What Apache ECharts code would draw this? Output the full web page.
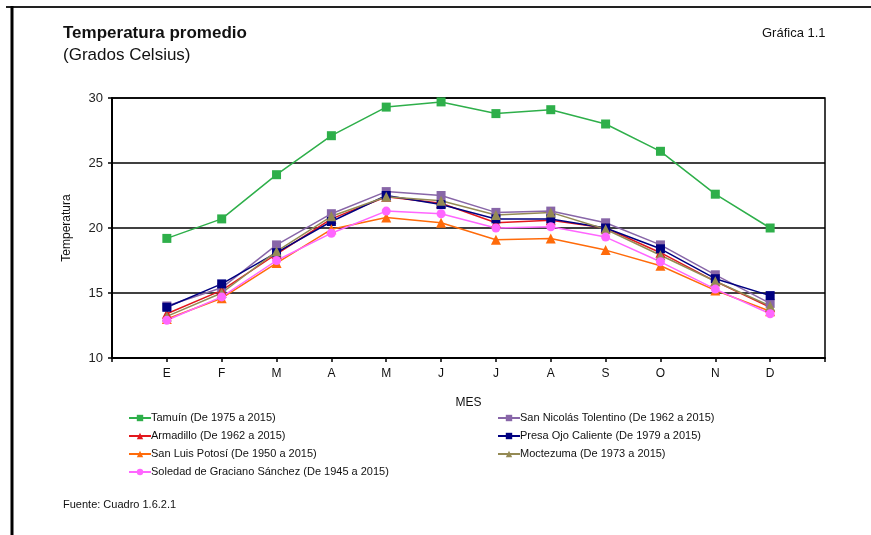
<!DOCTYPE html>
<html>
<head>
<meta charset="utf-8">
<script src="https://cdn.jsdelivr.net/npm/echarts@6/dist/echarts.min.js"></script>
<style>
	html, body { margin: 0; padding: 0; background: #fff; }
	#chart { width: 871px; height: 535px; }
</style>
</head>
<body>
<div id="chart"></div>
<script>
// meses, con un hueco vacio al principio y al final
var meses = ['', 'E', 'F', 'M', 'A', 'M', 'J', 'J', 'A', 'S', 'O', 'N', 'D', ''];

var tamuin = [19.2, 20.7, 24.1, 27.1, 29.3, 29.7, 28.8, 29.1, 28.0, 25.9, 22.6, 20.0];
var sanNicolas = [14.0, 15.4, 18.7, 21.1, 22.8, 22.5, 21.2, 21.3, 20.4, 18.7, 16.4, 14.2];
var armadillo = [13.4, 15.2, 18.0, 20.7, 22.4, 21.9, 20.4, 20.6, 20.0, 18.1, 15.9, 13.9];
var presaOjo = [13.9, 15.7, 18.1, 20.5, 22.5, 21.8, 20.7, 20.7, 20.0, 18.4, 16.1, 14.8];
var sanLuis = [13.0, 14.6, 17.3, 19.9, 20.8, 20.4, 19.1, 19.2, 18.3, 17.1, 15.2, 13.6];
var moctezuma = [13.2, 15.0, 18.2, 20.9, 22.4, 22.1, 21.0, 21.2, 19.9, 17.9, 15.9, 14.0];
var soledad = [12.9, 14.7, 17.5, 19.6, 21.3, 21.1, 20.0, 20.1, 19.3, 17.4, 15.3, 13.4];

var yTicks = [10, 15, 20, 25, 30];

var font = 'Liberation Sans, Arial, sans-serif';

function pad(arr) {
	return [null].concat(arr, [null]);
}

function serie(name, data, color, symbol) {
	return {
		name: name,
		type: 'line',
		data: pad(data),
		symbol: symbol,
		symbolSize: symbol === 'triangle' ? 10 : 9,
		lineStyle: { color: color, width: 1.5 },
		itemStyle: { color: color },
		emphasis: { disabled: true },
		animation: false
	};
}

var myChart = echarts.init(document.getElementById('chart'));

var legendText = { fontFamily: font, fontSize: 11, color: '#111', padding: [0, 0, 0, -5], lineHeight: 14 };

var option = {
	backgroundColor: '#fff',
	textStyle: { fontFamily: font },
	title: [{
		text: 'Temperatura promedio',
		left: 63, top: 25, padding: 0,
		textStyle: { fontFamily: font, fontSize: 17, fontWeight: 'bold', color: '#111' }
	}, {
		text: '(Grados Celsius)',
		left: 63, top: 47, padding: 0,
		textStyle: { fontFamily: font, fontSize: 17, fontWeight: 'normal', color: '#111' }
	}, {
		text: 'Gráfica 1.1',
		left: 762, top: 27, padding: 0,
		textStyle: { fontFamily: font, fontSize: 13, fontWeight: 'normal', color: '#111' }
	}, {
		text: 'Fuente: Cuadro 1.6.2.1',
		left: 63, top: 499, padding: 0,
		textStyle: { fontFamily: font, fontSize: 11, fontWeight: 'normal', color: '#111' }
	}],
	graphic: [{
		type: 'line',
		shape: { x1: 6, y1: 7, x2: 871, y2: 7 },
		style: { stroke: '#222', lineWidth: 2 }
	}, {
		type: 'line',
		shape: { x1: 12, y1: 6, x2: 12, y2: 535 },
		style: { stroke: '#000', lineWidth: 3 }
	}],
	legend: [{
		orient: 'vertical',
		left: 128, top: 411, padding: 0,
		itemWidth: 22, itemHeight: 8, itemGap: 4,
		data: ['Tamuín (De 1975 a 2015)', 'Armadillo (De 1962 a 2015)', 'San Luis Potosí (De 1950 a 2015)', 'Soledad de Graciano Sánchez (De 1945 a 2015)'],
		textStyle: legendText,
		selectedMode: false
	}, {
		orient: 'vertical',
		left: 497, top: 411, padding: 0,
		itemWidth: 22, itemHeight: 8, itemGap: 4,
		data: ['San Nicolás Tolentino (De 1962 a 2015)', 'Presa Ojo Caliente (De 1979 a 2015)', 'Moctezuma (De 1973 a 2015)'],
		textStyle: legendText,
		selectedMode: false
	}],
	grid: {
		left: 112, right: 46, top: 98, bottom: 177,
		show: true, borderColor: '#000', borderWidth: 1.5,
		containLabel: false
	},
	xAxis: {
		type: 'category',
		data: meses,
		boundaryGap: false,
		name: 'MES',
		nameLocation: 'middle',
		nameGap: 39,
		nameTextStyle: { fontFamily: font, fontSize: 12, color: '#111' },
		axisLine: { lineStyle: { color: '#000', width: 2 } },
		axisTick: { show: true, length: 4, inside: false, lineStyle: { color: '#000', width: 1.5 } },
		axisLabel: { interval: 0, margin: 10, fontFamily: font, fontSize: 12, color: '#111' },
		splitLine: { show: false }
	},
	yAxis: {
		type: 'value',
		min: yTicks[0],
		max: yTicks[yTicks.length - 1],
		interval: 5,
		name: 'Temperatura',
		nameLocation: 'middle',
		nameGap: 39,
		nameTextStyle: { fontFamily: font, fontSize: 12, color: '#111' },
		axisLine: { show: true, lineStyle: { color: '#000', width: 2 } },
		axisTick: { show: true, length: 4, lineStyle: { color: '#000', width: 1.5 } },
		axisLabel: { margin: 9, fontFamily: font, fontSize: 13, color: '#222' },
		splitLine: { show: true, lineStyle: { color: '#000', width: 1.5 } }
	},
	series: [
		serie('Tamuín (De 1975 a 2015)', tamuin, '#2EAF4A', 'rect'),
		serie('San Nicolás Tolentino (De 1962 a 2015)', sanNicolas, '#8866A8', 'rect'),
		serie('Armadillo (De 1962 a 2015)', armadillo, '#E3171C', 'triangle'),
		serie('Presa Ojo Caliente (De 1979 a 2015)', presaOjo, '#000080', 'rect'),
		serie('San Luis Potosí (De 1950 a 2015)', sanLuis, '#FF6B0A', 'triangle'),
		serie('Moctezuma (De 1973 a 2015)', moctezuma, '#948A54', 'triangle'),
		serie('Soledad de Graciano Sánchez (De 1945 a 2015)', soledad, '#FF66FF', 'circle')
	]
};

myChart.setOption(option);
</script>
</body>
</html>
